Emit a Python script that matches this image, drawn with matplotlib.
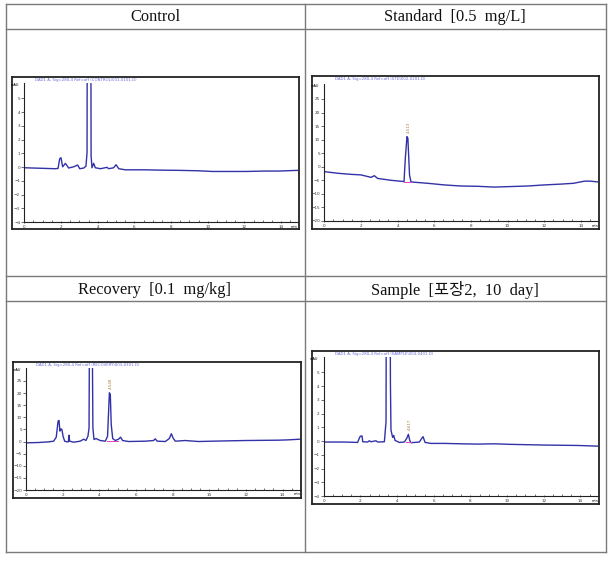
import matplotlib.pyplot as plt
from matplotlib.lines import Line2D

W, H = 615, 561

# --- chromatogram data (time in min, signal in mAU) ---
control_t = [0, 1.69, 1.84, 1.93, 2.0, 2.09, 2.24, 2.42, 2.69, 2.91, 3.02, 3.24, 3.36,
             3.42, 3.45, 3.6, 3.64, 3.69, 3.78, 3.87, 4.15, 4.51, 4.6, 4.87, 5.0, 5.15,
             5.51, 6.6, 7.3, 8.42, 9.5, 10.24, 12.05, 13.15, 13.87, 14.9]
control_v = [-0.05, -0.12, -0.1, 0.61, 0.68, 0.02, 0.27, -0.07, 0.02, 0.15, -0.12, -0.07,
             0.07, 1.05, 30, 30, 0.8, -0.05, 0.27, -0.05, -0.12, -0.02, -0.12, -0.05, 0.17,
             -0.12, -0.2, -0.2, -0.22, -0.24, -0.27, -0.32, -0.32, -0.29, -0.29, -0.24]

standard_t = [0, 0.73, 1.45, 2.0, 2.55, 2.73, 2.91, 3.64, 4.27, 4.35, 4.42, 4.51, 4.56,
              4.65, 4.73, 4.91, 5.64, 6.55, 7.45, 8.36, 9.27, 10.18, 11.09, 12.0, 12.9,
              13.6, 14.2, 14.5, 14.95]
standard_v = [-1.8, -2.4, -2.8, -3.0, -3.9, -3.3, -4.3, -5.0, -5.4, -5.5, 3.1, 11.1, 10.5,
              -3.0, -5.6, -5.7, -6.1, -6.7, -7.1, -7.2, -7.5, -7.3, -7.1, -6.7, -6.4,
              -6.1, -5.3, -5.3, -5.6]

recovery_t = [0, 0.69, 1.24, 1.51, 1.65, 1.75, 1.8, 1.85, 1.91, 1.96, 2.02, 2.11, 2.24,
              2.31, 2.35, 2.38, 2.6, 2.96, 3.15, 3.27, 3.38, 3.44, 3.47, 3.6, 3.65, 3.71,
              3.82, 4.05, 4.33, 4.45, 4.55, 4.6, 4.65, 4.73, 4.87, 5.05, 5.16, 5.27, 5.6,
              6.51, 6.96, 7.05, 7.16, 7.6, 7.82, 7.93, 8.04, 8.15, 8.69, 9.42, 10.15,
              11.96, 13.78, 14.33, 14.95]
recovery_v = [-0.55, -0.41, -0.14, 0.14, 1.8, 8.4, 8.7, 4.3, 5.2, 4.96, 2.2, 0.14, -0.14,
              -0.1, 2.6, 0.14, -0.28, 0.14, 0.96, 0.41, 2.2, 5.6, 60, 60, 5.6, 0.83,
              1.24, 0.41, 0.14, 2.2, 20.1, 19.4, 7.0, 1.24, 0.41, 0.96, 1.8, 0.41, 0.0,
              0.14, 0.41, 1.1, 0.14, 0.0, 1.24, 3.2, 1.24, 0.14, 0.41, 0.0, 0.14,
              0.41, 0.55, 0.69, 0.96]

sample_t = [0, 1.13, 1.85, 1.91, 1.98, 2.04, 2.09, 2.13, 2.4, 2.49, 2.58, 2.85, 2.95,
            3.31, 3.4, 3.45, 3.58, 3.64, 3.67, 3.76, 3.82, 3.89, 4.13, 4.4, 4.53, 4.62,
            4.69, 4.76, 5.22, 5.35, 5.42, 5.53, 5.85, 6.58, 7.49, 8.4, 9.31, 10.22,
            12.04, 13.85, 14.98]
sample_v = [-0.07, -0.07, -0.1, 0.1, 0.32, 0.37, 0.37, -0.05, -0.07, 0.02, -0.05, 0.02,
            -0.07, -0.05, 1.4, 30, 30, 4.2, 0.8, 0.27, 0.41, 0.05, -0.1, -0.07, 0.2, 0.49,
            0.07, -0.12, -0.07, 0.2, 0.32, -0.1, -0.17, -0.17, -0.2, -0.22, -0.2, -0.24,
            -0.29, -0.32, -0.37]

titles = ["Control", "Standard  [0.5  mg/L]", "Recovery  [0.1  mg/kg]",
          "Sample  [포장2,  10  day]"]
headers = ["DAD1 A, Sig=280,4 Ref=off (CONTROL\\001-0101.D)",
           "DAD1 A, Sig=280,4 Ref=off (STD\\002-0201.D)",
           "DAD1 A, Sig=280,4 Ref=off (RECOVERY\\003-0301.D)",
           "DAD1 A, Sig=280,4 Ref=off (SAMPLE\\004-0401.D)"]
x_ticks = [0, 2, 4, 6, 8, 10, 12, 14]
small_yticks = [-4, -3, -2, -1, 0, 1, 2, 3, 4, 5]
big_yticks = [-20, -15, -10, -5, 0, 5, 10, 15, 20, 25]

# panel layout: frame box, inner plot box (left, top, right, bottom in px), ylim, yticks
panels = [
    dict(t=control_t, v=control_v, frame=(12, 77, 299, 229), box=(24.3, 83.3, 297.7, 222),
         ylim=(-4, 6.1), yt=small_yticks, peak=None),
    dict(t=standard_t, v=standard_v, frame=(312, 76, 599, 229), box=(324.3, 84.3, 598.3, 221),
         ylim=(-20, 30.4), yt=big_yticks, peak=(4.51, 4.35, 4.73, -5.5, 12.5, "4.513")),
    dict(t=recovery_t, v=recovery_v, frame=(13, 362, 301, 498), box=(26, 368.3, 300, 490),
         ylim=(-20, 30.2), yt=big_yticks, peak=(4.55, 4.4, 5.0, 0.1, 21.5, "4.548")),
    dict(t=sample_t, v=sample_v, frame=(312, 351, 599, 504), box=(323.7, 357.3, 598.3, 496),
         ylim=(-4, 6.1), yt=small_yticks, peak=(4.62, 4.5, 4.75, -0.1, 0.8, "4.617")),
]


def px_box(l, t, r, b):
    return [l / W, 1 - b / H, (r - l) / W, (b - t) / H]


fig = plt.figure(figsize=(W / 100, H / 100), dpi=100)
fig.patch.set_facecolor("white")

# table grid
grid_col = "#7a7a7a"
for y in [4, 29, 276, 301, 552]:
    fig.add_artist(Line2D([5.7 / W, 606 / W], [1 - y / H] * 2, color=grid_col, lw=1.0))
for x in [5.7, 305, 606]:
    fig.add_artist(Line2D([x / W] * 2, [1 - 4 / H, 1 - 552 / H], color=grid_col, lw=1.0))

title_pos = [(155, 17), (455, 17), (155, 290), (455, 290)]
for (cx, cy), title in zip(title_pos, titles):
    fig.text(cx / W, 1 - cy / H, title, ha="center", va="center", fontsize=11.8,
             family=["Liberation Serif", "Noto Sans CJK KR"], color="#111111")

for p, head in zip(panels, headers):
    frame = fig.add_axes(px_box(*p["frame"]))
    frame.set_xticks([]); frame.set_yticks([])
    for s in frame.spines.values():
        s.set_linewidth(1.3); s.set_color("#222222")
    frame.text(0.08, 0.995, head, transform=frame.transAxes, fontsize=2.8,
               color="#6a6ad8", va="top", ha="left")

    ax = fig.add_axes(px_box(*p["box"]))
    ax.patch.set_alpha(0)
    ax.plot(p["t"], p["v"], color="#3232a8", lw=1.0)
    if p["peak"] is not None:
        rt, t0, t1, base, ytxt, lab = p["peak"]
        ax.plot([t0, t1], [base, base], color="#e040c0", lw=0.7)
        ax.text(rt + 0.1, ytxt, lab, rotation=90, fontsize=3, color="#b08040",
                ha="center", va="bottom")
    ax.set_xlim(0, p["t"][-1])
    ax.set_ylim(*p["ylim"])
    ax.spines["top"].set_visible(False)
    ax.spines["right"].set_visible(False)
    for s in ["left", "bottom"]:
        ax.spines[s].set_linewidth(0.8); ax.spines[s].set_color("#222222")
    ax.set_xticks(x_ticks)
    ax.set_xticks([x / 2 for x in range(0, 30)], minor=True)
    ax.set_yticks(p["yt"])
    ax.tick_params(axis="both", which="major", labelsize=3, length=2, width=0.5,
                   pad=1, colors="#333333")
    ax.tick_params(axis="x", which="minor", length=1.5, width=0.4, direction="in")
    ax.tick_params(axis="x", which="major", direction="inout")
    ax.text(-0.02, 1.0, "mAU", transform=ax.transAxes, fontsize=2.5, ha="right", va="top")
    ax.text(1.0, -0.02, "min", transform=ax.transAxes, fontsize=2.5, ha="right", va="top")

plt.savefig("out.png", dpi=100)
